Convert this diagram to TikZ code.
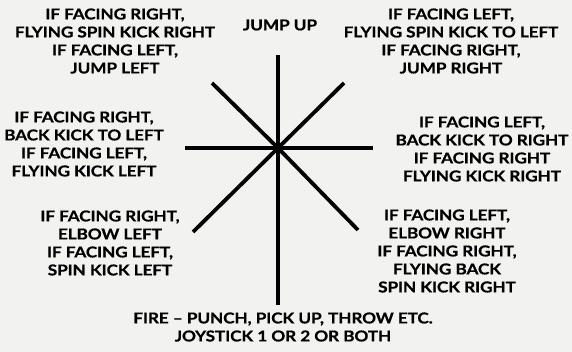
\documentclass[tikz,border=0pt]{standalone}
\usepackage{fontspec}
\setmainfont{Lato}[FakeStretch=1.15, FakeBold=0.6, LetterSpace=-1]
\usepackage{xcolor}
\definecolor{paper}{HTML}{F2F2F0}

\begin{document}
\begin{tikzpicture}[
  x=1pt, y=-1pt,
  font=\fontsize{15}{18}\selectfont\bfseries,
  stick/.style={line width=3.8pt, black},
  lbl/.style={align=center, inner sep=0pt},
]
\fill[paper] (0,0) rectangle (572,352);
\useasboundingbox (0,0) rectangle (572,352);

% stick positions
\coordinate (c)  at (278,148);
\coordinate (up) at (278,55);
\coordinate (dn) at (278,305);
\coordinate (lt) at (185,148);
\coordinate (rt) at (373,148);
\coordinate (ul) at (212,83);
\coordinate (ur) at (344,83);
\coordinate (dl) at (193,232);
\coordinate (dr) at (358,230);

\draw[stick] (up) -- (dn);
\draw[stick] (lt) -- (rt);
\draw[stick] (ul) -- (c) -- (dr);
\draw[stick] (ur) -- (c) -- (dl);

% top row
\node[lbl] (tl)  at (115,41)  {IF FACING RIGHT,\\FLYING SPIN KICK RIGHT\\IF FACING LEFT,\\JUMP LEFT};
\node[lbl] (jup) at (280,25)  {JUMP UP};
\node[lbl] (tr)  at (451,41)  {IF FACING LEFT,\\FLYING SPIN KICK TO LEFT\\IF FACING RIGHT,\\JUMP RIGHT};
% middle row
\node[lbl] (ml)  at (84,144)  {IF FACING RIGHT,\\BACK KICK TO LEFT\\IF FACING LEFT,\\FLYING KICK LEFT};
\node[lbl] (mr)  at (482,149) {IF FACING LEFT,\\BACK KICK TO RIGHT\\IF FACING RIGHT\\FLYING KICK RIGHT};
% bottom row
\node[lbl] (bl)  at (110,243) {IF FACING RIGHT,\\ELBOW LEFT\\IF FACING LEFT,\\SPIN KICK LEFT};
\node[lbl] (br)  at (447,251) {IF FACING LEFT,\\ELBOW RIGHT\\IF FACING RIGHT,\\FLYING BACK\\SPIN KICK RIGHT};
\node[lbl] (fire) at (283,327) {FIRE -- PUNCH, PICK UP, THROW ETC.\\JOYSTICK 1 OR 2 OR BOTH};
\end{tikzpicture}
\end{document}
